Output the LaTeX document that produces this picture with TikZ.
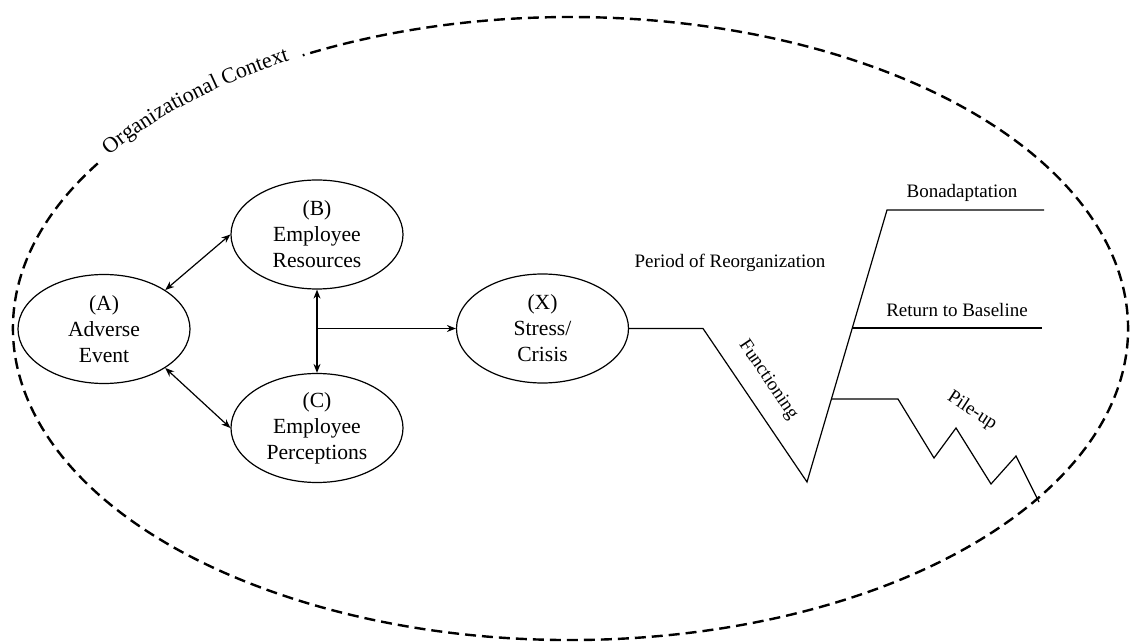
\documentclass[tikz,border=0pt]{standalone}
\usepackage{fontspec}
\setmainfont{Liberation Serif}
\usetikzlibrary{shapes.geometric,arrows.meta,decorations.text,calc}
\newcommand\ctxfont{\fontsize{11}{13}\selectfont}
\begin{document}
\begin{tikzpicture}[x=0.5pt,y=0.5pt,
  stage/.style={ellipse,draw,line width=0.6pt,minimum width=86pt,minimum height=54.5pt,inner sep=0pt,align=center,font=\fontsize{10.8}{13}\selectfont},
  link/.style={line width=0.6pt,{Stealth[length=4.5pt,width=3.5pt]}-{Stealth[length=4.5pt,width=3.5pt]}},
  onearrow/.style={line width=0.6pt,-{Stealth[length=4.5pt,width=3.5pt]}},
  trend/.style={line width=0.6pt},
  lbl/.style={font=\fontsize{9.5}{11}\selectfont,inner sep=0pt},
  ctx/.style={line width=1.2pt,dash pattern=on 5.5pt off 3pt}]
\useasboundingbox (0,0) rectangle (1130,643);
\coordinate (O) at (570.5,314.5);
\coordinate (cs) at ([shift={(148:278.75pt and 155.75pt)}]O);
\coordinate (ts) at ([shift={(147.5:278.75pt and 155.75pt)}]O);
\draw[ctx] (cs) arc[start angle=148,end angle=478.7,x radius=278.75pt,y radius=155.75pt];
\path[decorate,decoration={text along path,text align=center,raise=-0.5pt,text={|\ctxfont|Organizational Context}}]
  (ts) arc[start angle=147.5,end angle=119.1,x radius=278.75pt,y radius=155.75pt];

\node[stage] (A) at (104,314) {(A)\\Adverse\\Event};
\node[stage] (B) at (317,408.5) {(B)\\Employee\\Resources};
\node[stage] (C) at (317,215) {(C)\\Employee\\Perceptions};
\node[stage] (X) at (542.5,314.5) {(X)\\Stress/\\Crisis};

\draw[link] (A.north east) -- (B.west);
\draw[link] (A.south east) -- (C.west);
\draw[link] (B.south) -- (C.north);
\coordinate (J) at (B.south |- X.west);
\draw[onearrow] (J) -- (X.west);

\coordinate (f1) at (703,314.5);
\coordinate (bot) at (807,161);
\coordinate (top) at (887,433);
\coordinate (bonE) at (1044,433);
\draw[trend] (X.east) -- (f1) -- (bot) -- (top) -- (bonE);
\coordinate (rb) at ($(bot)!0.566!(top)$);
\coordinate (rbE) at (1042,0);
\draw[trend] (rb) -- (rb -| rbE);
\coordinate (pu) at ($(bot)!0.305!(top)$);
\coordinate (p1) at (898,244);
\coordinate (p2) at (934,185);
\coordinate (p3) at (956,215);
\coordinate (p4) at (991,159);
\coordinate (p5) at (1016,187);
\coordinate (p6) at (1039,141);
\draw[trend] (pu) -- (pu -| p1) -- (p2) -- (p3) -- (p4) -- (p5) -- (p6);

\node[lbl] (lbon) at (962,450) {Bonadaptation};
\node[lbl] (lper) at (730,380) {Period of Reorganization};
\node[lbl] (lret) at (957,333) {Return to Baseline};
\node[lbl,rotate=-56] (lfun) at (768,263) {Functioning};
\node[lbl,rotate=-33] (lpil) at (972,232) {Pile-up};
\end{tikzpicture}
\end{document}
